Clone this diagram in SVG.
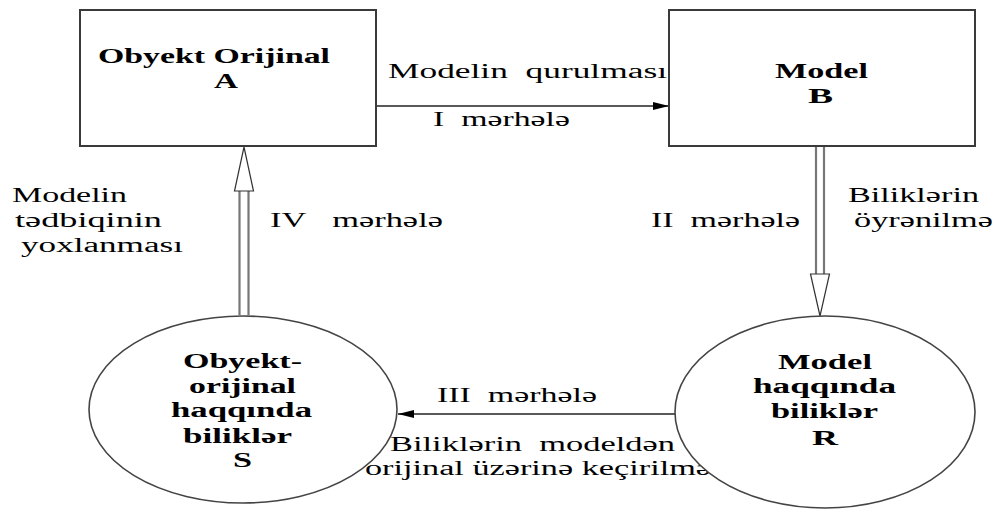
<svg xmlns="http://www.w3.org/2000/svg" width="997" height="509" viewBox="0 0 997 509">
<style>
.t{font-family:"Liberation Serif","Times New Roman",serif;font-size:20px;fill:#000}
.b{font-family:"Liberation Serif","Times New Roman",serif;font-size:20px;font-weight:bold;fill:#000}
.box{fill:#fff;stroke:#3a3a3a;stroke-width:2}
.ell{fill:#fff;stroke:#444;stroke-width:1.6}
.ln{stroke:#222;stroke-width:1.3;fill:none}
.shaft{stroke:#777;stroke-width:2.2;fill:none}
.head{fill:#fff;stroke:#333;stroke-width:1.2}
</style>
<defs>
<marker id="ah" markerWidth="16" markerHeight="8" refX="16" refY="4" orient="auto" markerUnits="userSpaceOnUse">
<path d="M0,0 L16,4 L0,8 Z" fill="#000"/>
</marker>
</defs>
<g id="connectors">
<line class="ln" x1="377" y1="106" x2="669" y2="106" marker-end="url(#ah)"/>
<line class="ln" x1="675" y1="414" x2="398" y2="414" marker-end="url(#ah)"/>
<line class="shaft" x1="816" y1="146" x2="816" y2="274"/>
<line class="shaft" x1="824" y1="146" x2="824" y2="274"/>
<path class="head" d="M810.5,274 L829.5,274 L820,316 Z"/>
<line class="shaft" x1="239.5" y1="315" x2="239.5" y2="191"/>
<line class="shaft" x1="248.5" y1="315" x2="248.5" y2="191"/>
<path class="head" d="M234.5,191 L253.5,191 L244,147 Z"/>
</g>
<g id="labels">
<text class="t" x="388" y="78" textLength="279" lengthAdjust="spacingAndGlyphs">Modelin&#160; qurulması</text>
<text class="t" x="433" y="126" textLength="137" lengthAdjust="spacingAndGlyphs">I&#160; mərhələ</text>
<text class="t" x="12" y="202" textLength="115" lengthAdjust="spacingAndGlyphs">Modelin</text>
<text class="t" x="15" y="227" textLength="147" lengthAdjust="spacingAndGlyphs">tədbiqinin</text>
<text class="t" x="21" y="252" textLength="162" lengthAdjust="spacingAndGlyphs">yoxlanması</text>
<text class="t" x="270" y="227" textLength="173" lengthAdjust="spacingAndGlyphs">IV&#160;&#160; mərhələ</text>
<text class="t" x="651" y="227" textLength="149" lengthAdjust="spacingAndGlyphs">II&#160; mərhələ</text>
<text class="t" x="848" y="202" textLength="131" lengthAdjust="spacingAndGlyphs">Biliklərin</text>
<text class="t" x="854" y="227" textLength="139" lengthAdjust="spacingAndGlyphs">öyrənilmə</text>
<text class="t" x="437" y="402" textLength="160" lengthAdjust="spacingAndGlyphs">III&#160; mərhələ</text>
<text class="t" x="390" y="451" textLength="285" lengthAdjust="spacingAndGlyphs">Biliklərin&#160; modeldən</text>
<text class="t" x="365" y="475" textLength="346" lengthAdjust="spacingAndGlyphs">orijinal üzərinə keçirilmə</text>
</g>
<g id="nodeA">
<rect class="box" x="80" y="10" width="296" height="136"/>
<text class="b" x="98" y="63" textLength="232" lengthAdjust="spacingAndGlyphs">Obyekt Orijinal</text>
<text class="b" x="214" y="88" textLength="24" lengthAdjust="spacingAndGlyphs">A</text>
</g>
<g id="nodeB">
<rect class="box" x="669" y="10" width="306" height="136"/>
<text class="b" x="775" y="78" textLength="93" lengthAdjust="spacingAndGlyphs">Model</text>
<text class="b" x="808" y="103" textLength="25" lengthAdjust="spacingAndGlyphs">B</text>
</g>
<g id="nodeS">
<ellipse class="ell" cx="243" cy="409.5" rx="154" ry="93.5"/>
<text class="b" x="183" y="368" textLength="119" lengthAdjust="spacingAndGlyphs">Obyekt-</text>
<text class="b" x="189" y="393" textLength="107" lengthAdjust="spacingAndGlyphs">orijinal</text>
<text class="b" x="171" y="417" textLength="141" lengthAdjust="spacingAndGlyphs">haqqında</text>
<text class="b" x="183" y="443" textLength="109" lengthAdjust="spacingAndGlyphs">biliklər</text>
<text class="b" x="233" y="467" textLength="19" lengthAdjust="spacingAndGlyphs">S</text>
</g>
<g id="nodeR">
<ellipse class="ell" cx="825" cy="412" rx="150" ry="96"/>
<text class="b" x="778" y="369" textLength="94" lengthAdjust="spacingAndGlyphs">Model</text>
<text class="b" x="753" y="393" textLength="143" lengthAdjust="spacingAndGlyphs">haqqında</text>
<text class="b" x="771" y="418" textLength="107" lengthAdjust="spacingAndGlyphs">biliklər</text>
<text class="b" x="812" y="445" textLength="26" lengthAdjust="spacingAndGlyphs">R</text>
</g>
</svg>
